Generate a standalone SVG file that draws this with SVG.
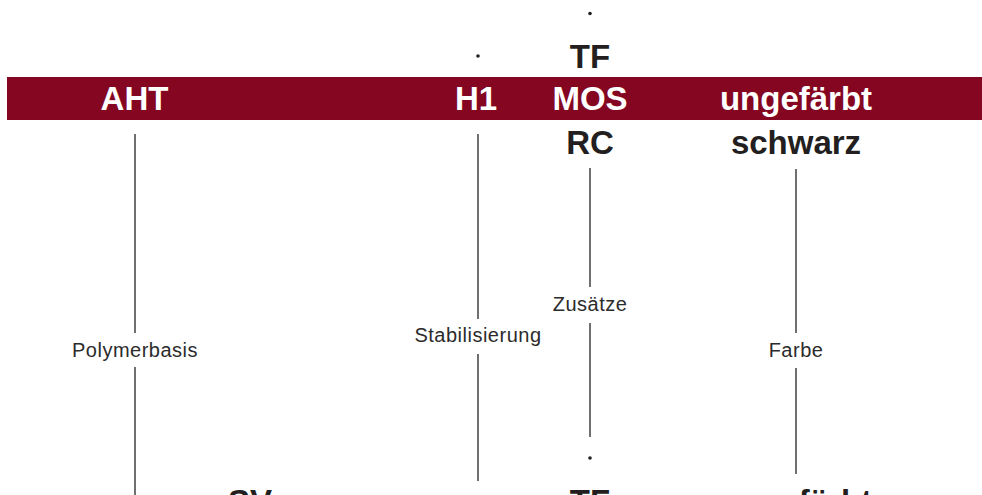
<svg xmlns="http://www.w3.org/2000/svg" width="982" height="495" viewBox="0 0 982 495">
  <style>
    .big { font-family: "Liberation Sans", Arial, sans-serif; font-weight: bold; font-size: 33px; text-anchor: middle; }
    .on-band { fill: #ffffff; }
    .dark { fill: #231f20; }
    .lbl { font-family: "Liberation Sans", Arial, sans-serif; font-size: 20px; letter-spacing: 0.5px; fill: #2b2b2b; text-anchor: middle; }
    .conn { stroke: #333333; stroke-width: 1.4; fill: none; }
    .dot { fill: #231f20; }
  </style>
  <rect width="982" height="495" fill="#ffffff"/>
  <g id="band">
    <rect x="7" y="77" width="975" height="43" fill="#840620"/>
  </g>
  <g id="node-AHT"><text class="big on-band" x="134.5" y="110">AHT</text></g>
  <g id="node-H1"><text class="big on-band" x="476" y="110">H1</text></g>
  <g id="node-MOS"><text class="big on-band" x="590" y="110">MOS</text></g>
  <g id="node-ungefaerbt"><text class="big on-band" x="796" y="110">ungefärbt</text></g>
  <g id="node-TF-top"><text class="big dark" x="590" y="68">TF</text></g>
  <g id="node-RC"><text class="big dark" x="590" y="154">RC</text></g>
  <g id="node-schwarz"><text class="big dark" x="796" y="154">schwarz</text></g>
  <g id="dot-top"><circle class="dot" cx="590" cy="13.5" r="1.8"/></g>
  <g id="dot-H1"><circle class="dot" cx="478" cy="56" r="1.8"/></g>
  <g id="dot-bottom"><circle class="dot" cx="590" cy="458" r="1.8"/></g>
  <g id="node-SV"><text class="big dark" x="250" y="513">SV</text></g>
  <g id="node-TF-bottom"><text class="big dark" x="590" y="513">TF</text></g>
  <g id="node-ungefaerbt-bottom"><text class="big dark" x="796" y="513">ungefärbt</text></g>
  <g id="connectors">
    <line class="conn" x1="135" y1="134" x2="135" y2="333"/>
    <line class="conn" x1="135" y1="367" x2="135" y2="495"/>
    <text class="lbl" x="135" y="357">Polymerbasis</text>
    <line class="conn" x1="478" y1="134" x2="478" y2="319"/>
    <line class="conn" x1="478" y1="354" x2="478" y2="481"/>
    <text class="lbl" x="478" y="342">Stabilisierung</text>
    <line class="conn" x1="590" y1="168" x2="590" y2="287"/>
    <line class="conn" x1="590" y1="323" x2="590" y2="437"/>
    <text class="lbl" x="590" y="311">Zusätze</text>
    <line class="conn" x1="796" y1="169" x2="796" y2="333"/>
    <line class="conn" x1="796" y1="368" x2="796" y2="474"/>
    <text class="lbl" x="796" y="357">Farbe</text>
  </g>
</svg>
